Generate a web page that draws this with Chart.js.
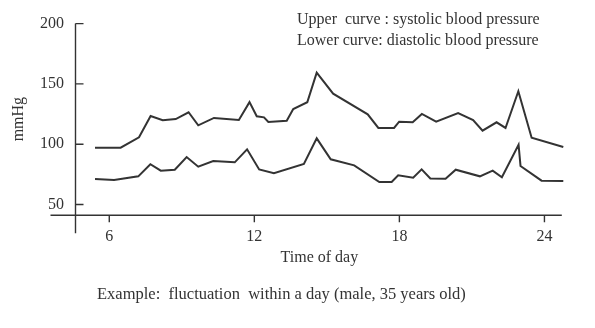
<!DOCTYPE html>
<html>
<head>
<meta charset="utf-8">
<script src="https://cdn.jsdelivr.net/npm/chart.js@4"></script>
<style>
  html, body { margin: 0; padding: 0; background: #fff; }
  #wrap { position: relative; width: 595px; height: 328px; }
</style>
</head>
<body>
<div id="wrap"><canvas id="bp-chart"></canvas></div>
<script>
// readings over one day (hour of day, mmHg)
const systolicHours = [5.41, 6.47, 7.23, 7.71, 8.21, 8.75, 9.28, 9.68, 10.33, 11.36, 11.80, 12.10, 12.40, 12.58, 13.34, 13.61, 14.19, 14.58, 15.26, 16.69, 17.13, 17.78, 17.99, 18.55, 18.93, 19.52, 20.43, 21.05, 21.44, 22.02, 22.39, 22.92, 23.47, 24.78];
const systolicValues = [97.1, 97.1, 105.8, 123.4, 119.9, 120.9, 126.5, 115.7, 121.8, 120.1, 134.9, 123.2, 122.3, 118.4, 119.5, 129.2, 134.8, 159.3, 141.9, 124.8, 113.5, 113.5, 118.7, 118.2, 125.1, 118.7, 125.9, 120.1, 111.2, 118.2, 113.5, 143.9, 105.4, 97.7];
const diastolicHours = [5.41, 6.20, 7.20, 7.70, 8.13, 8.71, 9.20, 9.68, 10.30, 11.19, 11.70, 12.20, 12.81, 14.05, 14.58, 15.16, 16.13, 17.17, 17.68, 17.95, 18.57, 18.92, 19.28, 19.91, 20.33, 21.33, 21.86, 22.24, 22.93, 23.01, 23.88, 24.78];
const diastolicValues = [71.2, 70.3, 73.4, 83.4, 78.1, 78.9, 89.4, 81.4, 86.1, 85.0, 95.8, 79.1, 75.9, 83.6, 104.9, 87.5, 82.5, 68.7, 68.7, 74.2, 72.3, 79.2, 71.6, 71.4, 78.9, 73.4, 78.1, 72.6, 99.6, 82.0, 69.8, 69.5];

const hourTicks = [6, 12, 18, 24];
const mmHgTicks = [50, 100, 150, 200];

const notes = ['Upper  curve : systolic blood pressure', 'Lower curve: diastolic blood pressure'];
const caption = 'Example:  fluctuation  within a day (male, 35 years old)';

const ink = '#333333';
const serif = "'Liberation Serif', 'Times New Roman', serif";

function toPoints(xs, ys) {
    return xs.map((x, i) => ({ x: x, y: ys[i] }));
}

// axes cross each other at the origin, y ticks point inward, x ticks point down
const crossAxes = {
    id: 'crossAxes',
    afterDraw(chart) {
        const ctx = chart.ctx;
        const area = chart.chartArea;
        const xs = chart.scales.x;
        const ys = chart.scales.y;
        ctx.save();
        ctx.strokeStyle = ink;
        ctx.lineWidth = 1.4;
        ctx.beginPath();
        ctx.moveTo(area.left, ys.getPixelForValue(200));
        ctx.lineTo(area.left, area.bottom + 18);
        ctx.moveTo(area.left - 25, area.bottom);
        ctx.lineTo(area.right - 1.5, area.bottom);
        mmHgTicks.forEach(v => {
            const py = ys.getPixelForValue(v);
            ctx.moveTo(area.left, py);
            ctx.lineTo(area.left + 8, py);
        });
        hourTicks.forEach(h => {
            const px = xs.getPixelForValue(h);
            ctx.moveTo(px, area.bottom);
            ctx.lineTo(px, area.bottom + 7);
        });
        ctx.stroke();

        ctx.fillStyle = ink;
        ctx.textAlign = 'left';
        ctx.textBaseline = 'middle';
        ctx.font = '16px ' + serif;
        ctx.fillText(notes[0], 297, 20);
        ctx.fillText(notes[1], 297, 41);
        ctx.font = '16.5px ' + serif;
        ctx.fillText(caption, 97, 295);
        ctx.restore();
    }
};

const ctx = document.getElementById('bp-chart').getContext('2d');
new Chart(ctx, {
    type: 'line',
    data: {
        datasets: [{
            label: 'systolic',
            data: toPoints(systolicHours, systolicValues),
            borderColor: ink,
            borderWidth: 2,
            pointRadius: 0,
            tension: 0,
            fill: false
        }, {
            label: 'diastolic',
            data: toPoints(diastolicHours, diastolicValues),
            borderColor: ink,
            borderWidth: 2,
            pointRadius: 0,
            tension: 0,
            fill: false
        }]
    },
    options: {
        responsive: true,
        maintainAspectRatio: false,
        animation: false,
        clip: false,
        layout: { padding: { top: 23, right: 31.7, bottom: 0, left: 0 } },
        plugins: {
            legend: { display: false },
            tooltip: { enabled: false }
        },
        scales: {
            x: {
                type: 'linear',
                min: 4.603,
                max: 24.78,
                afterFit: s => { s.height = 112.7; },
                afterBuildTicks: s => { s.ticks = hourTicks.map(v => ({ value: v })); },
                grid: { display: false, drawTicks: false },
                border: { display: false },
                ticks: {
                    color: ink,
                    padding: 11.8,
                    font: { family: serif, size: 16 }
                },
                title: {
                    display: true,
                    text: 'Time of day',
                    color: ink,
                    font: { family: serif, size: 16 },
                    padding: { top: 0, bottom: 60.4 }
                }
            },
            y: {
                min: 41.1,
                max: 200.5,
                afterFit: s => { s.width = 75.5; },
                afterBuildTicks: s => { s.ticks = mmHgTicks.map(v => ({ value: v })); },
                grid: { display: false, drawTicks: false },
                border: { display: false },
                ticks: {
                    color: ink,
                    padding: 11.5,
                    font: { family: serif, size: 16 }
                },
                title: {
                    display: true,
                    text: 'mmHg',
                    color: ink,
                    font: { family: serif, size: 16 },
                    padding: { top: 9.4, bottom: 0 }
                }
            }
        }
    },
    plugins: [crossAxes]
});
</script>
</body>
</html>
